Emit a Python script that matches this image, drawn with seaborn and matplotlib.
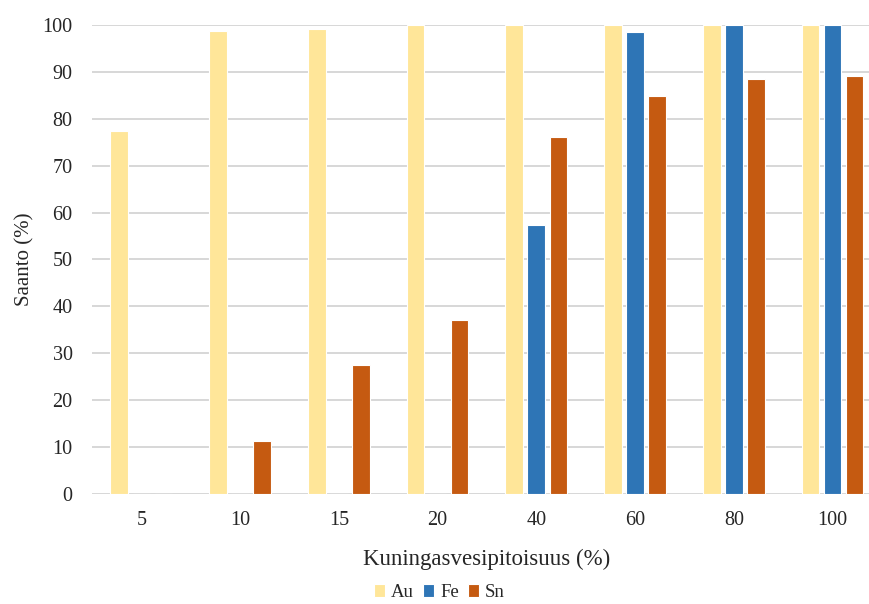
import matplotlib
matplotlib.use("Agg")
import matplotlib.pyplot as plt
import seaborn as sns
import pandas as pd

# Aqua regia concentration (%) and recovery (%) per metal
concentrations = ["5", "10", "15", "20", "40", "60", "80", "100"]
au_recovery = [77.3, 98.6, 99.1, 100.0, 100.0, 100.0, 100.0, 100.0]
fe_recovery = [0.0, 0.0, 0.0, 0.0, 57.3, 98.4, 99.9, 100.0]
sn_recovery = [0.0, 11.3, 27.6, 37.2, 76.1, 84.9, 88.5, 89.2]
metals = ["Au", "Fe", "Sn"]
colors = ["#FFE699", "#2E75B6", "#C55A11"]

df = pd.DataFrame({
    "conc": concentrations * 3,
    "metal": [m for m in metals for _ in concentrations],
    "value": au_recovery + fe_recovery + sn_recovery,
})

sns.set_theme(style="white")
plt.rcParams["font.family"] = ["Liberation Serif", "DejaVu Serif"]

fig = plt.figure(figsize=(8.7, 6.04), dpi=100)
ax = fig.add_axes([0.1057, 0.182, 0.908, 0.7768])

sns.barplot(data=df, x="conc", y="value", hue="metal", order=concentrations,
            hue_order=metals, palette=colors, width=0.67, gap=0.2,
            edgecolor="white", linewidth=0.8, saturation=1, ax=ax, legend=True)

ax.set_ylim(0, 100)
ax.set_yticks(range(0, 101, 10))
ax.yaxis.grid(True, color="#D4D4D4", linewidth=1.3)
ax.set_axisbelow(True)
for s in ax.spines.values():
    s.set_visible(False)
ax.tick_params(axis="both", length=0, labelsize=14.5, colors="#262626")
ax.tick_params(axis="x", pad=12)
ax.tick_params(axis="y", pad=14)

ax.set_xlabel("Kuningasvesipitoisuus (%)", fontsize=16.5, color="#262626", labelpad=14)
ax.set_ylabel("Saanto (%)", fontsize=15, color="#262626", labelpad=6)

handles, labels = ax.get_legend_handles_labels()
ax.legend(handles, labels, loc="center", bbox_to_anchor=(0.44, -0.21),
          ncol=3, frameon=False, fontsize=13.5, handlelength=0.6, handleheight=0.7,
          handletextpad=0.3, columnspacing=0.5, borderpad=0.1)

fig.savefig("out.png", dpi=100)
